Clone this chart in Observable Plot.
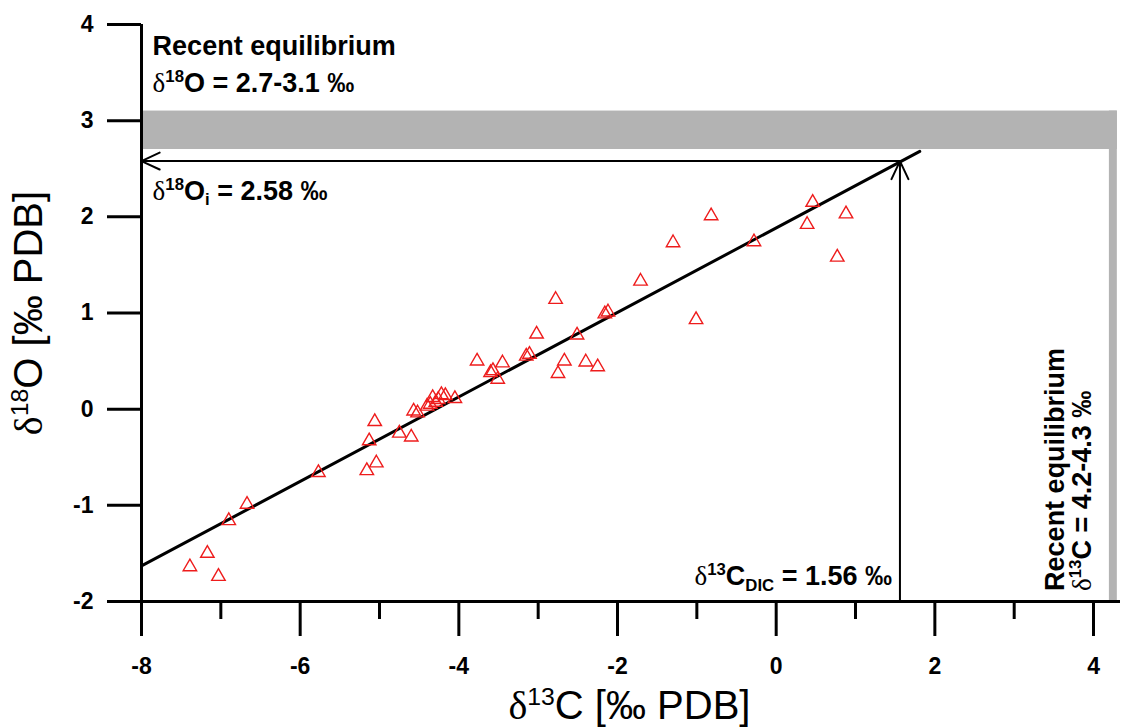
<!DOCTYPE html>
<html><head><meta charset="utf-8">
<script src="https://cdn.jsdelivr.net/npm/d3@7"></script>
<script src="https://cdn.jsdelivr.net/npm/@observablehq/plot@0.6"></script>
<style>body{margin:0;background:#fff}</style>
</head><body><div id="chart"></div>
<script>
// δ13C values (‰ PDB)
const d13C = [-7.39,-7.17,-7.03,-6.90,-6.67,-5.77,-5.16,-5.13,-5.06,-5.04,-4.75,-4.60,-4.57,-4.52,-4.40,-4.36,-4.33,-4.29,-4.26,-4.22,-4.17,-4.05,-3.77,-3.60,-3.57,-3.51,-3.45,-3.15,-3.11,-3.02,-2.78,-2.75,-2.67,-2.51,-2.40,-2.25,-2.16,-2.12,-1.71,-1.30,-1.01,-0.82,-0.28,0.39,0.46,0.77,0.88];
// δ18O values (‰ PDB)
const d18O = [-1.64,-1.50,-1.74,-1.16,-0.99,-0.66,-0.64,-0.33,-0.13,-0.56,-0.25,-0.29,-0.02,-0.04,0.03,0.05,0.12,0.07,0.10,0.15,0.14,0.11,0.50,0.38,0.40,0.31,0.48,0.55,0.57,0.78,1.14,0.37,0.50,0.77,0.49,0.44,0.99,1.01,1.33,1.73,0.93,2.01,1.74,1.92,2.15,1.58,2.03];
// regression line end points
const fitX = [-8, 1.81];
const fitY = [-1.63, 2.68];
// recent equilibrium ranges
const eqO = [2.7, 3.1];
const eqC = [4.2, 4.3];
// intersection values
const d18Oi = 2.58;
const d13CDIC = 1.56;
// ticks
const xMajorTicks = [-8, -6, -4, -2, 0, 2, 4];
const xMinorTicks = [-7, -5, -3, -1, 1, 3];
const yTicks = [-2, -1, 0, 1, 2, 3, 4];
const xDomain = [-8, 4.34];
const yDomain = [-2, 4];

const points = d13C.map((x, i) => ({x, y: d18O[i]}));
const fit = fitX.map((x, i) => ({x, y: fitY[i]}));
const bands = [
  {x1: xDomain[0], x2: eqC[1], y1: eqO[0], y2: eqO[1]},
  {x1: eqC[0], x2: eqC[1], y1: yDomain[0], y2: eqO[1]}
];
const arrows = [
  {x1: d13CDIC, y1: d18Oi, x2: xDomain[0], y2: d18Oi},
  {x1: d13CDIC, y1: yDomain[0], x2: d13CDIC, y2: d18Oi}
];

const SANS = "'Liberation Sans', Arial, sans-serif";
const ANN = 27;
const TITLE = 40;
const TICK = 23;

const plot = Plot.plot({
  width: 1124, height: 728,
  marginLeft: 141, marginRight: 4, marginTop: 24, marginBottom: 127,
  x: {domain: xDomain},
  y: {domain: yDomain},
  style: {fontFamily: SANS, background: "#fff", color: "#000", overflow: "visible"},
  marks: [
    Plot.rect(bands, {x1: "x1", x2: "x2", y1: "y1", y2: "y2", fill: "#b3b3b3"}),
    Plot.arrow(arrows, {x1: "x1", y1: "y1", x2: "x2", y2: "y2", stroke: "#000", strokeWidth: 2, headLength: 15, headAngle: 50}),
    Plot.line(fit, {x: "x", y: "y", stroke: "#000", strokeWidth: 3}),
    Plot.dot(points, {x: "x", y: "y", symbol: "triangle", r: 5, stroke: "#ee1c1c", strokeWidth: 1.4, fill: "none"}),
    Plot.ruleX([xDomain[0]], {y1: yDomain[0], y2: yDomain[1], stroke: "#000", strokeWidth: 3}),
    Plot.ruleY([yDomain[0]], {x1: xDomain[0], x2: xDomain[1], stroke: "#000", strokeWidth: 3}),
    Plot.axisY({ticks: yTicks, tickSize: 34, tickPadding: 14, strokeWidth: 3, fontSize: TICK, fontWeight: "bold", tickFormat: d => String(d), label: null}),
    Plot.axisX({ticks: xMajorTicks, tickSize: 35, tickPadding: 21, strokeWidth: 3, fontSize: TICK, fontWeight: "bold", tickFormat: d => String(d), label: null}),
    Plot.axisX({ticks: xMinorTicks, tickSize: 18, strokeWidth: 3, tickFormat: () => "", label: null}),
    // annotations
    Plot.text(["Recent equilibrium"], {x: -7.86, y: 3.77, text: d => d, textAnchor: "start", fontSize: ANN, fontWeight: "bold"}),
    Plot.text(["δ^{18}O = 2.7-3.1 ‰"], {x: -7.86, y: 3.39, text: d => d, textAnchor: "start", fontSize: ANN, fontWeight: "bold"}),
    Plot.text(["δ^{18}O_{i} = 2.58 ‰"], {x: -7.86, y: 2.27, text: d => d, textAnchor: "start", fontSize: ANN, fontWeight: "bold"}),
    Plot.text(["δ^{13}C_{DIC} = 1.56 ‰"], {x: 1.46, y: -1.74, text: d => d, textAnchor: "end", fontSize: ANN, fontWeight: "bold"}),
    Plot.text(["Recent equilibrium"], {x: 3.52, y: -1.89, text: d => d, rotate: -90, textAnchor: "start", fontSize: ANN, fontWeight: "bold"}),
    Plot.text(["δ^{13}C = 4.2-4.3 ‰"], {x: 3.86, y: -1.89, text: d => d, rotate: -90, textAnchor: "start", fontSize: ANN, fontWeight: "bold"}),
    // axis titles
    Plot.text(["δ^{13}C [‰ PDB]"], {x: -1.85, y: -3.09, text: d => d, fontSize: TITLE}),
    Plot.text(["δ^{18}O [‰ PDB]"], {x: -9.41, y: 1.0, text: d => d, rotate: -90, fontSize: TITLE})
  ]
});

document.getElementById("chart").appendChild(plot);

// tick label styling (force size and weight on the numeric tick texts)
d3.select(plot).selectAll("text")
  .filter(function() { return /^-?\d+$/.test(this.textContent.trim()); })
  .style("font-size", TICK + "px").style("font-weight", "bold");

// build super/subscripts and serif delta as real tspans
d3.select(plot).selectAll("text").each(function() {
  const t = this.textContent;
  if (!/[δ^_]/.test(t) || this.querySelector("tspan")) return;
  const fs = parseFloat(getComputedStyle(this).fontSize);
  const el = d3.select(this);
  el.text(null);
  const parts = t.split(/(\^\{[^}]*\}|_\{[^}]*\}|δ)/g).filter(s => s !== "");
  let shift = 0;
  for (const p of parts) {
    const ts = el.append("tspan");
    let target = 0;
    if (p.startsWith("^{")) {
      target = -0.36 * fs;
      ts.text(p.slice(2, -1)).attr("font-size", 0.62 * fs);
    } else if (p.startsWith("_{")) {
      target = 0.22 * fs;
      ts.text(p.slice(2, -1)).attr("font-size", 0.62 * fs);
    } else if (p === "δ") {
      ts.text(p).attr("font-family", "'Liberation Serif', 'DejaVu Serif', serif").attr("font-weight", "normal");
    } else {
      ts.text(p);
    }
    const dy = target - shift;
    shift = target;
    if (dy) ts.attr("dy", dy);
  }
});
</script>
</body></html>
